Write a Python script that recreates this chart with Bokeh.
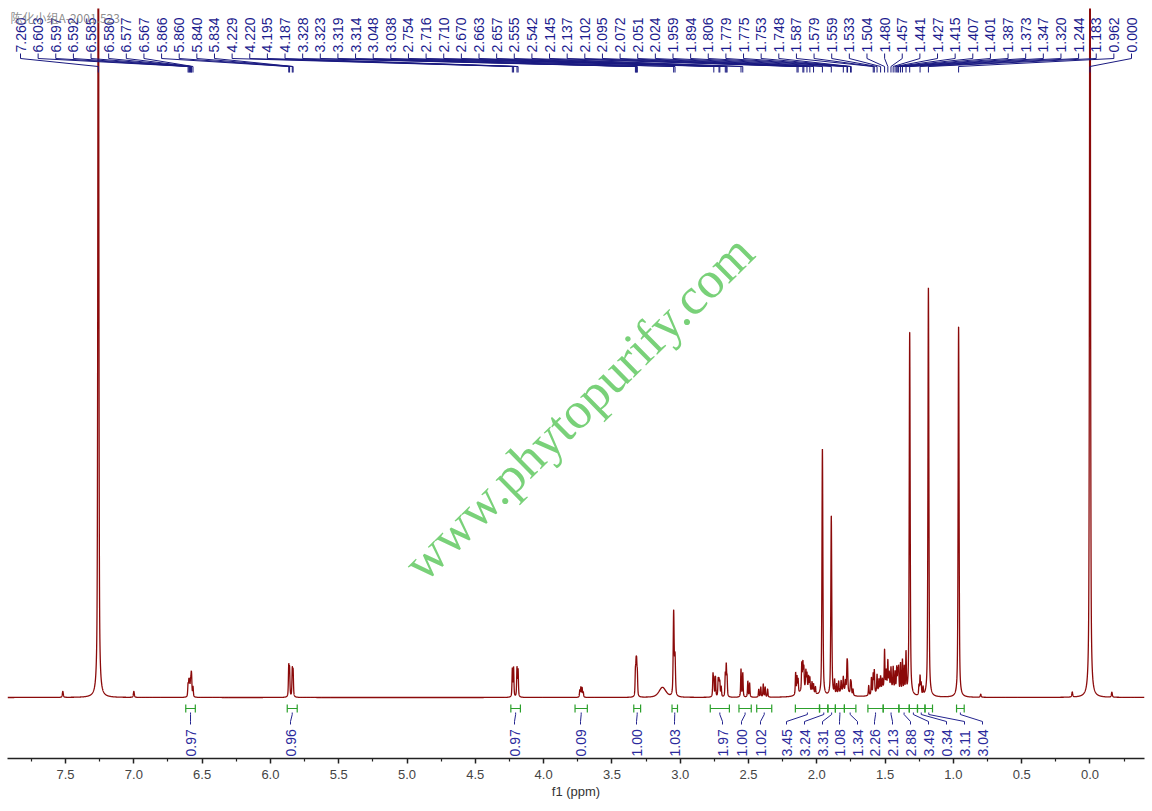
import numpy as np
from bokeh.plotting import figure
from bokeh.models import Range1d, FixedTicker
from bokeh.core.properties import value
from bokeh.embed import file_html
from bokeh.resources import INLINE

# ---------------- data ----------------
# peak positions (ppm), heights (arbitrary intensity) and half widths (ppm)
peak_ppm = [7.520, 7.260, 7.000,
            6.603, 6.597, 6.592, 6.585, 6.580, 6.577, 6.567,
            5.866, 5.860, 5.840, 5.834,
            4.229, 4.220, 4.195, 4.187,
            3.735, 3.727, 3.718, 3.710,
            3.328, 3.323, 3.319, 3.314,
            3.130,
            3.048, 3.038,
            2.760, 2.754, 2.742, 2.722, 2.716, 2.710, 2.700, 2.670, 2.663, 2.657,
            2.555, 2.542, 2.505, 2.492,
            2.425, 2.410, 2.392, 2.378, 2.360,
            2.155, 2.145, 2.137, 2.110, 2.102, 2.095, 2.080, 2.072, 2.060, 2.051,
            2.035, 2.024, 2.010, 2.080,
            1.959, 1.894,
            1.870, 1.855, 1.840, 1.822, 1.806, 1.790, 1.779, 1.775, 1.753, 1.748,
            1.735, 1.800,
            1.620, 1.600, 1.587, 1.579, 1.559, 1.545, 1.533, 1.520, 1.504, 1.492,
            1.480, 1.470, 1.457, 1.441, 1.427, 1.415, 1.407, 1.401, 1.387, 1.373,
            1.360, 1.347, 1.480,
            1.320,
            1.252, 1.244, 1.236, 1.222,
            1.183, 0.962, 0.800, 0.130, 0.000, -0.160]
peak_height = [6, 950, 6,
               12, 14, 13, 14, 15, 14, 10,
               30, 27, 27, 25,
               28, 29, 29, 27,
               7, 10, 9, 5,
               23, 26, 26, 21,
               10,
               84, 38,
               22, 17, 20, 17, 15, 14, 10, 22, 30, 18,
               28, 24, 16, 14,
               8, 10, 13, 10, 8,
               22, 17, 14, 27, 26, 21, 18, 15, 13, 13,
               10, 9, 7, 8,
               247, 180,
               14, 10, 12, 11, 14, 10, 24, 22, 12, 10,
               6, 6,
               10, 17, 20, 23, 18, 12, 14, 10, 38, 16,
               26, 14, 20, 22, 18, 23, 19, 23, 29, 33,
               26, 40, 10,
               364,
               10, 19, 12, 8,
               409, 371, 3, 5, 950, 5]
peak_hwhm = [0.004, 0.004, 0.004] + [0.003] * 7 + [0.003] * 4 + [0.003] * 4 \
    + [0.003] * 4 + [0.003] * 4 + [0.03] + [0.004] * 2 + [0.003] * 10 \
    + [0.003] * 4 + [0.003] * 5 + [0.003] * 13 + [0.05] + [0.004] * 2 \
    + [0.003] * 11 + [0.04] + [0.003] * 22 + [0.07] + [0.004] \
    + [0.003] * 4 + [0.004] * 6

# labelled shifts (top peak list)
label_ppm = [7.260, 6.603, 6.597, 6.592, 6.585, 6.580, 6.577, 6.567,
             5.866, 5.860, 5.840, 5.834, 4.229, 4.220, 4.195, 4.187,
             3.328, 3.323, 3.319, 3.314, 3.048, 3.038, 2.754, 2.716,
             2.710, 2.670, 2.663, 2.657, 2.555, 2.542, 2.145, 2.137,
             2.102, 2.095, 2.072, 2.051, 2.024, 1.959, 1.894, 1.806,
             1.779, 1.775, 1.753, 1.748, 1.587, 1.579, 1.559, 1.533,
             1.504, 1.480, 1.457, 1.441, 1.427, 1.415, 1.407, 1.401,
             1.387, 1.373, 1.347, 1.320, 1.244, 1.183, 0.962, 0.000]

# integrals: region start / end (ppm) and value
int_start = [6.620, 5.877, 4.240, 3.770, 3.340, 3.060, 2.780, 2.570, 2.440,
             2.157, 1.979, 1.919, 1.864, 1.798, 1.626, 1.514, 1.399, 1.323,
             1.263, 1.208, 0.977]
int_end = [6.550, 5.804, 4.170, 3.680, 3.290, 3.020, 2.640, 2.480, 2.330,
           1.981, 1.919, 1.864, 1.798, 1.714, 1.514, 1.399, 1.323, 1.263,
           1.208, 1.153, 0.921]
int_value = [0.97, 0.96, 0.97, 0.09, 1.00, 1.03, 1.97, 1.00, 1.02,
             3.45, 3.24, 3.31, 1.08, 1.34, 2.26, 2.13, 2.88, 3.49,
             0.34, 3.11, 3.04]

tick_values = [7.5, 7.0, 6.5, 6.0, 5.5, 5.0, 4.5, 4.0, 3.5, 3.0, 2.5, 2.0,
               1.5, 1.0, 0.5, 0.0]
tick_labels = ["7.5", "7.0", "6.5", "6.0", "5.5", "5.0", "4.5", "4.0", "3.5",
               "3.0", "2.5", "2.0", "1.5", "1.0", "0.5", "0.0"]
minor_values = [7.75, 7.25, 6.75, 6.25, 5.75, 5.25, 4.75, 4.25, 3.75, 3.25,
                2.75, 2.25, 1.75, 1.25, 0.75, 0.25, -0.25]

sample_title = "陈化小组A-2001.523"
watermark = "www.phytopurify.com"

# ---------------- layout (page pixels) ----------------
W, H = 1152, 811
FL, FR, FT, FB = 7, 1144, 8, 758        # frame edges on the page
X_START, X_END = 7.925, -0.399          # ppm at left / right frame edge
BASE = 697                              # baseline row on the page
Y_START, Y_END = BASE - FB, BASE - FT   # intensity at frame bottom / top
PPM_PER_PX = (X_START - X_END) / (FR - FL)


def px2ppm(px):  # page column -> ppm
    return X_START - (px - FL) * PPM_PER_PX


def py(row):  # page row -> data y
    return BASE - row


p = figure(width=W, height=H, x_range=Range1d(X_START, X_END),
           y_range=Range1d(Y_START, Y_END), output_backend="svg",
           toolbar_location=None, y_axis_location=None,
           min_border_left=FL, min_border_right=W - FR, min_border_top=FT,
           min_border_bottom=H - FB)
p.outline_line_color = None
p.xgrid.visible = False
p.ygrid.visible = False
p.background_fill_color = "white"
p.border_fill_color = "white"

# spectrum
x = np.arange(X_END, X_START, 0.0004)
y = np.zeros_like(x)
for c, h, w in zip(peak_ppm, peak_height, peak_hwhm):
    d = (x - c) / w
    y += h * (0.55 / (1 + d * d) + 0.45 * np.exp(-np.log(2) * d * d))
p.line(x, y, line_color="#8B0A0A", line_width=1.3)

# watermark
p.text(x=[px2ppm(578)], y=[py(407)], text=[watermark], angle=0.778,
       text_align="center", text_baseline="middle",
       text_font=value("Liberation Serif"), text_font_size="52px",
       text_color="#79d179")

# top peak labels
n = len(label_ppm)
lab_x = [px2ppm(20 + i * (1111 / (n - 1))) for i in range(n)]
xs, ys = [], []
for lx, pk in zip(lab_x, label_ppm):
    xs.append([lx, lx, pk, pk])
    ys.append([py(53), py(58), py(66), py(72)])
p.multi_line(xs, ys, line_color="#1a1a80", line_width=1)
p.text(x=lab_x, y=[py(52)] * n, text=[f"{v:.3f}" for v in label_ppm],
       angle=np.pi / 2, text_align="left", text_baseline="middle",
       text_font=value("Liberation Sans"), text_font_size="14px",
       text_color="#1c1c8e")

# sample title
p.text(x=[px2ppm(10)], y=[py(17)], text=[sample_title],
       text_align="left", text_baseline="middle",
       text_font=value("Noto Sans CJK SC"), text_font_size="12px",
       text_color="#7a7a7a", text_alpha=0.85)

# integrals
int_label_px = [190, 290, 514, 580, 636, 674, 722, 741, 760, 786, 804, 822,
                839, 857, 874, 892, 910, 928, 946, 964, 982]
ilx = [px2ppm(v) for v in int_label_px]
gx, gy, bx, by = [], [], [], []
for s, e, lx in zip(int_start, int_end, ilx):
    gx += [[s, e], [s, s], [e, e]]
    gy += [[py(708), py(708)], [py(704), py(712)], [py(704), py(712)]]
    cx = (s + e) / 2
    bx.append([cx, cx, lx, lx])
    by.append([py(712), py(714), py(721), py(724)])
p.multi_line(gx, gy, line_color="#2ca02c", line_width=1.2)
p.multi_line(bx, by, line_color="#24248f", line_width=1)
p.text(x=ilx, y=[py(756)] * len(ilx), text=[f"{v:.2f}" for v in int_value],
       angle=np.pi / 2, text_align="left", text_baseline="middle",
       text_font=value("Liberation Sans"), text_font_size="14px",
       text_color="#2a2a9c")

# x axis
ax = p.xaxis[0]
ax.ticker = FixedTicker(ticks=tick_values, minor_ticks=minor_values)
ax.major_label_overrides = {v: t for v, t in zip(tick_values, tick_labels)}
ax.axis_label = "f1 (ppm)"
ax.axis_label_text_font = "Liberation Sans"
ax.axis_label_text_font_size = "13px"
ax.axis_label_text_font_style = "normal"
ax.axis_label_text_color = "#333333"
ax.axis_label_standoff = 2
ax.major_label_text_font = "Liberation Sans"
ax.major_label_text_font_size = "13px"
ax.major_label_text_color = "#444444"
ax.major_label_standoff = 6
ax.axis_line_color = "#222222"
ax.axis_line_width = 1.5
ax.major_tick_line_color = "#222222"
ax.major_tick_line_width = 1.5
ax.major_tick_in = 0
ax.major_tick_out = 5
ax.minor_tick_line_color = "#222222"
ax.minor_tick_line_width = 1.2
ax.minor_tick_in = 0
ax.minor_tick_out = 3

open("out.html", "w").write(file_html(p, INLINE))
